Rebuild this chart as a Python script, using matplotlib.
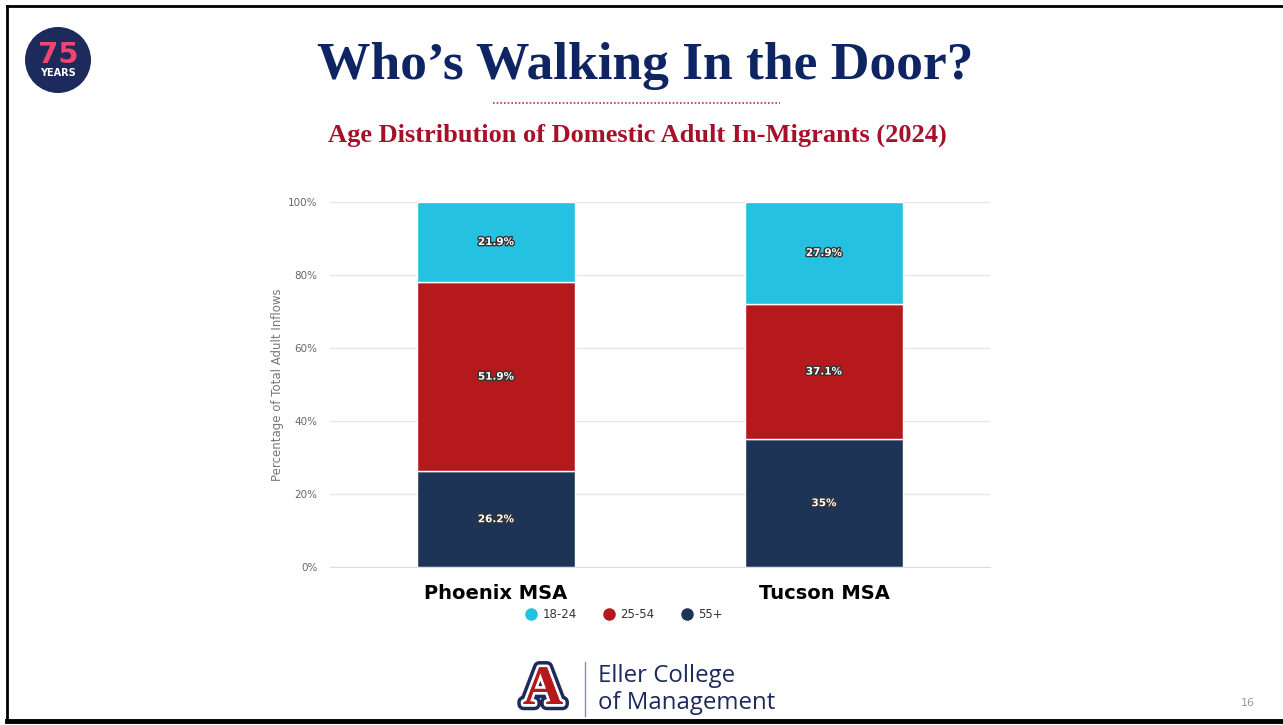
import numpy as np
import matplotlib.pyplot as plt
import matplotlib.patheffects as pe
from matplotlib.patches import Circle
from matplotlib.lines import Line2D

# Datos
regiones = ['Phoenix MSA', 'Tucson MSA']
grupos = ['18-24', '25-54', '55+']
edad_55 = [26.2, 35.0]
edad_25_54 = [51.9, 37.1]
edad_18_24 = [21.9, 27.9]
etiquetas_55 = ['26.2%', '35%']
etiquetas_25_54 = ['51.9%', '37.1%']
etiquetas_18_24 = ['21.9%', '27.9%']
ticks_y = [0, 20, 40, 60, 80, 100]

c_cian = '#24C1E0'
c_rojo = '#B5191C'
c_azul = '#1D3456'
navy = '#0F2463'

W, H = 1283, 725
fig = plt.figure(figsize=(W / 100, H / 100), dpi=100)
fig.patch.set_facecolor('white')

def fx(px):
    return px / W

def fy(py):
    return 1 - py / H

# Marco de la diapositiva
fig.add_artist(Line2D([fx(7), fx(7)], [fy(6), fy(720)], color='black', lw=2, transform=fig.transFigure))
fig.add_artist(Line2D([fx(7), 1], [fy(6), fy(6)], color='black', lw=2, transform=fig.transFigure))
fig.add_artist(Line2D([fx(7), 1], [fy(721), fy(721)], color='black', lw=3.5, transform=fig.transFigure))

# Titulo y subtitulo
fig.text(fx(645), fy(66), 'Who\u2019s Walking In the Door?', ha='center', va='center',
         fontsize=38.5, fontweight='bold', family='Liberation Serif', color=navy)
fig.add_artist(Line2D([fx(493), fx(780)], [fy(103), fy(103)], color='#C0303A', lw=1.2,
                      ls=(0, (1, 1.2)), transform=fig.transFigure))
fig.text(fx(637), fy(135), 'Age Distribution of Domestic Adult In-Migrants (2024)', ha='center', va='center',
         fontsize=19, fontweight='bold', family='Liberation Serif', color='#A8102A')

# Logo 75 anios
logo = fig.add_axes([fx(25), fy(93), fx(66), fy(27) - fy(93)])
logo.set_xlim(0, 1)
logo.set_ylim(0, 1)
logo.axis('off')
logo.add_patch(Circle((0.5, 0.5), 0.5, facecolor='#1C2A5C', edgecolor='none'))
logo.text(0.5, 0.58, '75', ha='center', va='center', fontsize=21, fontweight='bold', color='#F0456E')
logo.text(0.5, 0.3, 'YEARS', ha='center', va='center', fontsize=7, fontweight='bold', color='white')
logo.set_aspect('equal')

# Grafico principal
ax = fig.add_axes([fx(330), fy(567), fx(990) - fx(330), fy(202) - fy(567)])
x = np.arange(len(regiones))
ancho = 0.48
ax.bar(x, edad_55, ancho, color=c_azul, edgecolor='white', linewidth=1, label='55+', zorder=2)
ax.bar(x, edad_25_54, ancho, bottom=edad_55, color=c_rojo, edgecolor='white', linewidth=1,
       label='25-54', zorder=2)
base = np.array(edad_55) + np.array(edad_25_54)
ax.bar(x, edad_18_24, ancho, bottom=base, color=c_cian, edgecolor='white', linewidth=1,
       label='18-24', zorder=2)

efecto = [pe.withStroke(linewidth=2, foreground='#333333')]
for i in range(len(regiones)):
    for val, bot, txt in [(edad_55[i], 0, etiquetas_55[i]),
                          (edad_25_54[i], edad_55[i], etiquetas_25_54[i]),
                          (edad_18_24[i], base[i], etiquetas_18_24[i])]:
        ax.text(x[i], bot + val / 2, txt, ha='center', va='center', color='white',
                fontsize=7.5, fontweight='bold', path_effects=efecto, zorder=3)

ax.set_xlim(-0.506, 1.506)
ax.set_ylim(0, 100)
ax.set_yticks(ticks_y)
ax.set_yticklabels([f'{t}%' for t in ticks_y], fontsize=7.5, color='#666666')
ax.yaxis.grid(True, color='#E6E6E6', lw=1, zorder=0)
ax.tick_params(axis='y', length=0, pad=9)
ax.set_xticks(x)
ax.set_xticklabels(regiones, fontsize=14, fontweight='bold', color='black')
ax.tick_params(axis='x', length=0, pad=12)
for s in ['top', 'right', 'left']:
    ax.spines[s].set_visible(False)
ax.spines['bottom'].set_color('#D8DCE6')
ax.set_ylabel('Percentage of Total Adult Inflows', fontsize=8.5, color='#777777', labelpad=3)

# Leyenda
handles = [Line2D([], [], marker='o', ls='', markersize=8, color=c) for c in [c_cian, c_rojo, c_azul]]
fig.legend(handles, grupos, loc='center', bbox_to_anchor=(fx(624), fy(615)), ncol=3, frameon=False,
           fontsize=8.5, handletextpad=0.5, columnspacing=2.2, handlelength=1.0, labelcolor='#333333')

# Logo Eller
fig.text(fx(543), fy(690), 'A', ha='center', va='center', fontsize=40, fontweight='bold',
         family='Liberation Serif', color=c_rojo,
         path_effects=[pe.withStroke(linewidth=9, foreground='#1C2A5C'),
                       pe.withStroke(linewidth=4, foreground='white'), pe.Normal()])
fig.add_artist(Line2D([fx(585), fx(585)], [fy(662), fy(716)], color='#8A8FA8', lw=1,
                      transform=fig.transFigure))
fig.text(fx(598), fy(676), 'Eller College', ha='left', va='center', fontsize=17.3, color='#1C2A5C',
         family='Open Sans')
fig.text(fx(598), fy(703), 'of Management', ha='left', va='center', fontsize=17.3, color='#1C2A5C',
         family='Open Sans')

fig.text(fx(1248), fy(703), '16', ha='center', va='center', fontsize=8, color='#999999')

fig.savefig('out.png', dpi=100)
